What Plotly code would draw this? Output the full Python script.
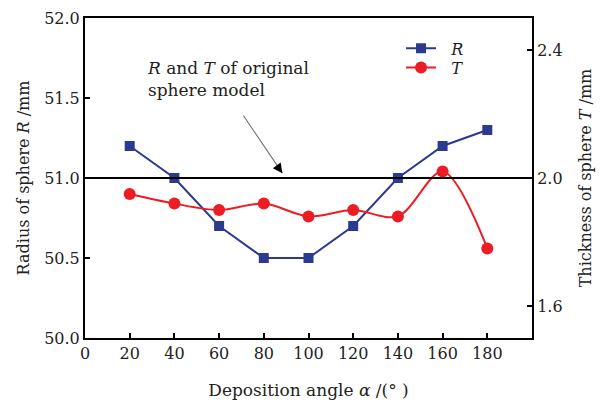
import plotly.graph_objects as go

angles = [20, 40, 60, 80, 100, 120, 140, 160, 180]
R_vals = [51.2, 51.0, 50.7, 50.5, 50.5, 50.7, 51.0, 51.2, 51.3]
T_vals = [1.95, 1.92, 1.90, 1.92, 1.88, 1.90, 1.88, 2.02, 1.78]
x_ticks = [0, 20, 40, 60, 80, 100, 120, 140, 160, 180]
yl_ticks = [50.0, 50.5, 51.0, 51.5, 52.0]
yr_ticks = [1.6, 2.0, 2.4]
ref_R = 51.0

FONT = "DejaVu Serif"
BLUE = "#2B3990"
RED = "#ED1C24"

fig = go.Figure()
fig.add_trace(go.Scatter(x=angles, y=R_vals, name="&nbsp;&nbsp;<i>R</i>", mode="lines+markers",
                         line=dict(color=BLUE, width=2),
                         marker=dict(symbol="square", size=10, color=BLUE),
                         legend="legend"))
fig.add_trace(go.Scatter(x=angles, y=T_vals, name="&nbsp;&nbsp;<i>T</i>", mode="lines+markers",
                         yaxis="y2",
                         line=dict(color=RED, width=2, shape="spline", smoothing=0.9),
                         marker=dict(symbol="circle", size=12, color=RED),
                         legend="legend2"))

fig.add_shape(type="line", xref="paper", yref="y", x0=0, x1=1, y0=ref_R, y1=ref_R,
              line=dict(color="black", width=2))

# arrow: gray shaft, black head
fig.add_annotation(x=88.3, y=51.03, ax=70.4, ay=51.40, xref="x", yref="y",
                   axref="x", ayref="y", text="", showarrow=True,
                   arrowhead=0, arrowwidth=1.2, arrowcolor="#777777")
fig.add_annotation(x=88.3, y=51.03, ax=86.0, ay=51.075, xref="x", yref="y",
                   axref="x", ayref="y", text="", showarrow=True,
                   arrowhead=2, arrowsize=1.6, arrowwidth=1.2, arrowcolor="black")
fig.add_annotation(x=27, y=51.765, xref="x", yref="y", xanchor="left", yanchor="top",
                   text="<i>R</i> and <i>T</i> of original<br>sphere model",
                   showarrow=False, align="left",
                   font=dict(family=FONT, size=17, color="#222222"))

axis_common = dict(showline=True, linecolor="black", linewidth=2, ticks="inside",
                   ticklen=5, tickwidth=2, tickcolor="black", showgrid=False,
                   zeroline=False, ticklabeloverflow="allow",
                   tickfont=dict(family=FONT, size=16, color="#222222"))

legend_common = dict(xanchor="left", yanchor="middle", bgcolor="rgba(0,0,0,0)",
                     font=dict(family=FONT, size=16), tracegroupgap=0)

fig.update_layout(
    width=598, height=394,
    margin=dict(l=77, r=74, t=10, b=64),
    plot_bgcolor="white", paper_bgcolor="white",
    font=dict(family=FONT, size=16, color="#222222"),
    xaxis=dict(range=[0, 200], tickvals=x_ticks, mirror=True, automargin=False,
               title=dict(text="Deposition angle <i>α</i> /(° )", standoff=22,
                          font=dict(family=FONT, size=17)),
               **axis_common),
    yaxis=dict(range=[50, 52], tickvals=yl_ticks, tickformat=".1f", automargin="left",
               title=dict(text="Radius of sphere <i>R</i> /mm", standoff=11,
                          font=dict(family=FONT, size=16)),
               **axis_common),
    yaxis2=dict(range=[1.5, 2.5], tickvals=yr_ticks, tickformat=".1f",
                overlaying="y", side="right", automargin="right",
                title=dict(text="Thickness of sphere <i>T</i> /mm", standoff=18,
                           font=dict(family=FONT, size=16)),
                **axis_common),
    showlegend=True,
    legend=dict(x=0.707, y=0.905, **legend_common),
    legend2=dict(x=0.707, y=0.845, **legend_common),
)

fig.write_html("out.html")
